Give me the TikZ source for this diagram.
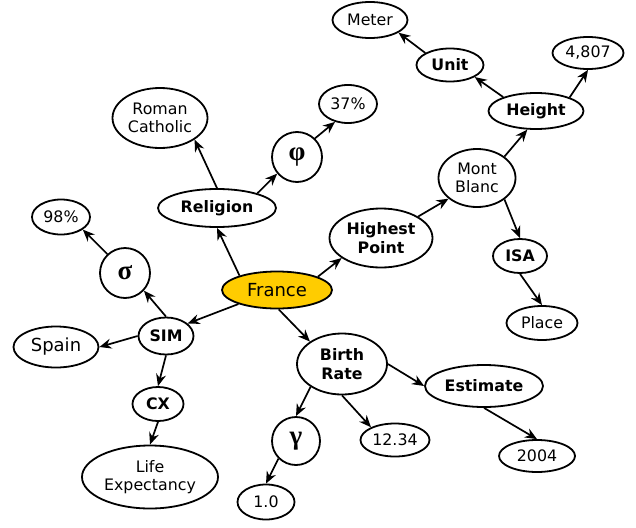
\documentclass[tikz,border=0pt]{standalone}
\usepackage{fontspec}
\setmainfont{DejaVu Sans}
\newfontfamily\grkfont{Liberation Serif}
\usetikzlibrary{shapes.geometric,arrows.meta}
\definecolor{gold}{HTML}{FFCC00}
\tikzset{
  ell/.style={ellipse, draw, line width=1.8pt, inner sep=0pt, align=center, font=\fontsize{15.8}{18.5}\selectfont},
  bell/.style={ell, font=\fontsize{15.8}{18.5}\selectfont\bfseries},
  circ/.style={circle, draw, line width=1.8pt, inner sep=0pt, font=\grkfont\fontsize{27}{30}\selectfont\bfseries},
  arr/.style={line width=1.7pt, -{Stealth[length=12pt,width=10pt,inset=4pt]}},
}
\begin{document}
\begin{tikzpicture}[x=1pt,y=-1pt]
\useasboundingbox (0,0) rectangle (636,527);
% nodes
\node[ell, fill=gold, minimum width=110pt, minimum height=37pt, font=\fontsize{18}{21}\selectfont] (france) at (277,290) {France};
\node[bell, minimum width=118pt, minimum height=38pt] (religion) at (217,208) {Religion};
\node[ell, minimum width=95pt, minimum height=60pt] (rc) at (160,118) {Roman\\Catholic};
\node[circ, minimum size=50pt] (phi) at (297,157) {φ};
\node[ell, minimum width=58pt, minimum height=38pt] (p37) at (348,104) {37\%};
\node[ell, minimum width=75pt, minimum height=36pt] (meter) at (370,20) {Meter};
\node[bell, minimum width=67pt, minimum height=33pt] (unit) at (450,65) {Unit};
\node[ell, minimum width=71pt, minimum height=32pt] (h4807) at (588,53) {4,807};
\node[bell, minimum width=95pt, minimum height=36pt] (height) at (536,111) {Height};
\node[ell, minimum width=77pt, minimum height=58pt] (mb) at (477,178) {Mont\\Blanc};
\node[bell, minimum width=103pt, minimum height=59pt] (hp) at (381,238) {Highest\\Point};
\node[bell, minimum width=54pt, minimum height=34pt] (isa) at (520,256) {ISA};
\node[ell, minimum width=71pt, minimum height=34pt] (place) at (542,323) {Place};
\node[bell, minimum width=90pt, minimum height=61pt] (br) at (342,364) {Birth\\Rate};
\node[bell, minimum width=118pt, minimum height=42pt] (est) at (484,386) {Estimate};
\node[ell, minimum width=69pt, minimum height=33pt] (v1234) at (395,440) {12.34};
\node[ell, minimum width=76pt, minimum height=32pt] (y2004) at (537,456) {2004};
\node[circ, minimum size=48pt] (gamma) at (296,441) {γ};
\node[ell, minimum width=57pt, minimum height=35pt] (v10) at (266,502) {1.0};
\node[ell, minimum width=136pt, minimum height=63pt] (le) at (150,477) {Life\\Expectancy};
\node[bell, minimum width=51pt, minimum height=34pt] (cx) at (158,404) {CX};
\node[bell, minimum width=55pt, minimum height=37pt] (sim) at (166,336) {SIM};
\node[ell, minimum width=85pt, minimum height=41pt, font=\fontsize{18}{21}\selectfont] (spain) at (56,347) {Spain};
\node[circ, minimum size=50pt] (sigma) at (125,273) {σ};
\node[ell, minimum width=58pt, minimum height=35pt] (p98) at (61,217) {98\%};
% edges
\draw[arr] (france.159) -- (religion.south);
\draw[arr] (france.200) -- (sim.30);
\draw[arr] (france.18) -- (hp.207);
\draw[arr] (france.-85) -- (br.145);
\draw[arr] (religion.north) -- (rc.-32);
\draw[arr] (religion.20) -- (phi.220);
\draw[arr] (phi.46) -- (p37.234);
\draw[arr] (hp.30) -- (mb.216);
\draw[arr] (mb.38) -- (height.245);
\draw[arr] (height.157) -- (unit.-26);
\draw[arr] (unit.154) -- (meter.-24);
\draw[arr] (height.22) -- (h4807.south);
\draw[arr] (mb.-38) -- (isa.north);
\draw[arr] (isa.south) -- (place.north);
\draw[arr] (br.east) -- (est.west);
\draw[arr] (est.south) -- (y2004.north);
\draw[arr] (br.south) -- (v1234.152);
\draw[arr] (br.216) -- (gamma.north);
\draw[arr] (gamma.225) -- (v10.north);
\draw[arr] (sim.north) -- (sigma.-43);
\draw[arr] (sigma.133) -- (p98.-30);
\draw[arr] (sim.west) -- (spain.east);
\draw[arr] (sim.south) -- (cx.north);
\draw[arr] (cx.south) -- (le.north);
\end{tikzpicture}
\end{document}
